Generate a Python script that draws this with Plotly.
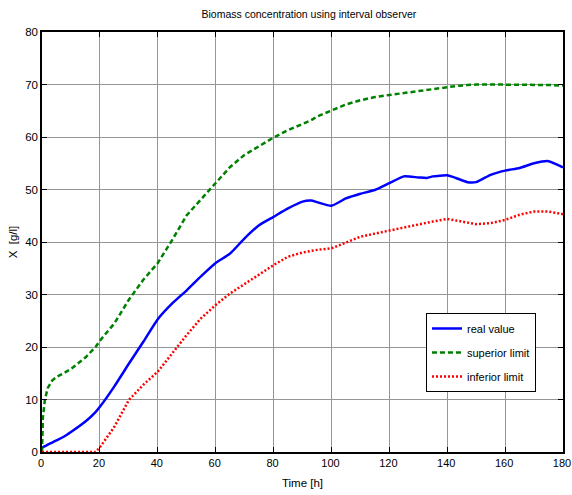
import plotly.graph_objects as go

# time samples [h]
t = [0, 0.3, 1, 2, 3.5, 5, 7.5, 10, 15, 18.5, 20, 25, 30, 35, 40, 45, 50, 55, 60, 65,
     70, 75, 80, 85, 90, 93, 95, 100, 105, 110, 115, 120, 125, 130, 133, 135, 140,
     143, 147, 150, 155, 160, 165, 170, 175, 180]

real_value = [0.8, 0.9, 1.1, 1.4, 1.8, 2.2, 2.9, 3.8, 5.8, 7.6, 8.6, 12.5, 16.8, 21, 25.3,
              28.3, 30.8, 33.5, 36, 37.8, 40.7, 43.2, 44.8, 46.4, 47.7, 47.9, 47.6, 46.9,
              48.3, 49.2, 49.9, 51.2, 52.5, 52.3, 52.2, 52.5, 52.7, 52.2, 51.4, 51.4, 52.8,
              53.6, 54.1, 55, 55.4, 54.2]

superior = [0, 6.5, 10, 12.2, 13.6, 14.3, 15, 15.8, 18, 20, 21.2, 24.5, 29, 32.8, 36, 40.4,
            45.1, 48.2, 51.2, 54.3, 56.6, 58.3, 59.9, 61.3, 62.4, 63.2, 63.9, 65.1, 66.2,
            67, 67.6, 68, 68.4, 68.8, 69, 69.2, 69.5, 69.7, 69.9, 70, 70, 70, 70, 70,
            69.9, 69.8]

inferior = [0, 0, 0, 0, 0, 0, 0, 0, 0, 0, 0.9, 4.8, 9.9, 12.8, 15.3, 18.8, 22.3, 25.5, 28,
            30.2, 32, 33.7, 35.6, 37.2, 38, 38.3, 38.5, 38.8, 39.9, 41, 41.6, 42.2, 42.8,
            43.4, 43.7, 43.9, 44.4, 44.1, 43.6, 43.4, 43.6, 44.2, 45.2, 45.8, 45.8, 45.3]

fig = go.Figure()
fig.add_trace(go.Scatter(x=t, y=real_value, mode='lines', name='real value', legendgroup='a',
                         line=dict(color='rgb(0,0,255)', width=2.5, shape='spline', smoothing=0.5)))
fig.add_trace(go.Scatter(x=t, y=superior, mode='lines', name='superior limit', legendgroup='b',
                         line=dict(color='rgb(0,128,0)', width=2.5, dash='5px,3px')))
fig.add_trace(go.Scatter(x=t, y=inferior, mode='lines', name='inferior limit', legendgroup='c',
                         line=dict(color='rgb(255,0,0)', width=2.5, dash='2px,2px')))

axis_style = dict(showline=True, linecolor='black', linewidth=1.5, mirror='ticks',
                  ticks='inside', ticklen=5, tickcolor='black', automargin=False,
                  ticklabeloverflow='allow',
                  showgrid=True, gridcolor='rgb(150,150,150)', gridwidth=1,
                  zeroline=False, tickfont=dict(size=11.5, color='black'))

fig.update_xaxes(range=[0, 180], dtick=20, title=dict(text='Time [h]', font=dict(size=11.5), standoff=11),
                 **axis_style)
fig.update_xaxes(tickfont=dict(size=11), ticklabelshift=-1)
fig.update_yaxes(range=[0, 80], dtick=10, title=dict(text='X  [g/l]', font=dict(size=11.5), standoff=5),
                 **axis_style)

fig.update_layout(
    width=572, height=495,
    margin=dict(l=42, r=9, t=32, b=43),
    paper_bgcolor='white', plot_bgcolor='white',
    font=dict(family='Liberation Sans, Arial, sans-serif', color='black', size=11),
    title=dict(text='Biomass concentration using interval observer', x=0.54, xanchor='center',
               y=0.972, yanchor='middle', font=dict(size=10.5)),
    legend=dict(x=0.737, y=0.331, xanchor='left', yanchor='top',
                bordercolor='black', borderwidth=1, bgcolor='white',
                font=dict(size=11), tracegroupgap=5),
    showlegend=True,
)

# drop the page's default body margin so the figure fills the window
fig.write_html("out.html", config={'displayModeBar': False},
               post_script="document.body.style.margin='0';"
                           "document.documentElement.style.overflow='hidden';")
